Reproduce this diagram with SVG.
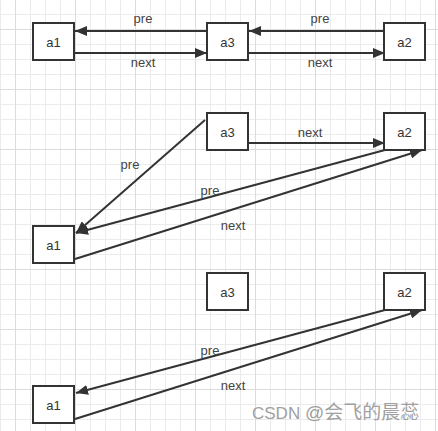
<svg xmlns="http://www.w3.org/2000/svg" width="438" height="431" viewBox="0 0 438 431">
<defs>
<pattern id="minor" x="0" y="-1" width="15" height="15" patternUnits="userSpaceOnUse">
<path d="M0 0.5H15M0.5 0V15" fill="none" stroke="#ebebeb" stroke-width="1"/>
</pattern>
<pattern id="major" x="15" y="29" width="60" height="60" patternUnits="userSpaceOnUse">
<path d="M0 0.5H60M0.5 0V60" fill="none" stroke="#dcdcdc" stroke-width="1"/>
</pattern>
<marker id="arr" viewBox="0 0 12 10" refX="12" refY="5" markerWidth="12" markerHeight="10" markerUnits="userSpaceOnUse" orient="auto">
<path d="M0 0L12 5L0 10Z" fill="#333"/>
</marker>
</defs>
<style>
.box{fill:#fff;stroke:#333;stroke-width:2}
.nl{font-family:"Liberation Sans","Noto Sans",sans-serif;font-size:13px;fill:#333;text-anchor:middle;dominant-baseline:central}
.el{font-family:"Liberation Sans","Noto Sans",sans-serif;font-size:13px;fill:#444;text-anchor:middle;dominant-baseline:central}
.ln{stroke:#333;stroke-width:2;fill:none;marker-end:url(#arr)}
</style>
<rect width="438" height="431" fill="#fff"/>
<rect width="438" height="431" fill="url(#minor)"/>
<rect width="438" height="431" fill="url(#major)"/>

<g id="connectors">
<line class="ln" x1="206" y1="31" x2="75" y2="31"/>
<line class="ln" x1="75" y1="53" x2="207" y2="53"/>
<line class="ln" x1="384" y1="31" x2="249" y2="31"/>
<line class="ln" x1="249" y1="53" x2="385" y2="53"/>
<text class="el" x="143" y="18">pre</text>
<text class="el" x="143" y="62">next</text>
<text class="el" x="320" y="18">pre</text>
<text class="el" x="320" y="62">next</text>

<line class="ln" x1="205" y1="120" x2="76" y2="233"/>
<line class="ln" x1="249" y1="143" x2="385" y2="143"/>
<line class="ln" x1="385" y1="150" x2="76" y2="233"/>
<line class="ln" x1="75" y1="259" x2="422" y2="150"/>
<text class="el" x="130" y="164">pre</text>
<text class="el" x="310" y="132">next</text>
<text class="el" x="210" y="190">pre</text>
<text class="el" x="233" y="225">next</text>

<line class="ln" x1="385" y1="310" x2="76" y2="393"/>
<line class="ln" x1="75" y1="419" x2="422" y2="310"/>
<text class="el" x="210" y="350">pre</text>
<text class="el" x="233" y="385">next</text>
</g>

<g id="p1-a1"><rect class="box" x="33" y="23" width="41" height="37"/><text class="nl" x="53.5" y="42">a1</text></g>
<g id="p1-a3"><rect class="box" x="207" y="23" width="41" height="37"/><text class="nl" x="227.5" y="42">a3</text></g>
<g id="p1-a2"><rect class="box" x="384" y="23" width="41" height="37"/><text class="nl" x="404.5" y="42">a2</text></g>

<g id="p2-a3"><rect class="box" x="207" y="113" width="41" height="37"/><text class="nl" x="227.5" y="132">a3</text></g>
<g id="p2-a2"><rect class="box" x="384" y="113" width="41" height="37"/><text class="nl" x="404.5" y="132">a2</text></g>
<g id="p2-a1"><rect class="box" x="33" y="226" width="41" height="37"/><text class="nl" x="53.5" y="245">a1</text></g>

<g id="p3-a3"><rect class="box" x="207" y="273" width="41" height="37"/><text class="nl" x="227.5" y="292">a3</text></g>
<g id="p3-a2"><rect class="box" x="384" y="273" width="41" height="37"/><text class="nl" x="404.5" y="292">a2</text></g>
<g id="p3-a1"><rect class="box" x="33" y="386" width="41" height="37"/><text class="nl" x="53.5" y="405">a1</text></g>

<text x="252" y="419" font-family="'Liberation Sans','Noto Sans CJK SC',sans-serif" font-size="17" fill="#a0a0a0">CSDN <tspan font-size="19">@会飞的晨蕊</tspan></text>
</svg>
